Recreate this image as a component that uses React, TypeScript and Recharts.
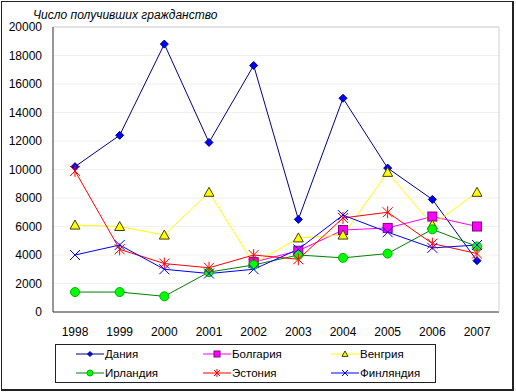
import React from 'react';
import { LineChart, Line, XAxis, YAxis, CartesianGrid, ReferenceLine } from 'recharts';

const years = ['1998', '1999', '2000', '2001', '2002', '2003', '2004', '2005', '2006', '2007'];
const denmark = [10200, 12400, 18800, 11900, 17300, 6500, 15000, 10100, 7900, 3600];
const bulgaria = [null, null, null, null, 3500, 4300, 5750, 5900, 6700, 6000];
const hungary = [6100, 6000, 5400, 8400, 3400, 5200, 5400, 9800, 6100, 8400];
const ireland = [1400, 1400, 1100, 2800, 3300, 4000, 3800, 4100, 5800, 4600];
const estonia = [9900, 4400, 3400, 3100, 4000, 3700, 6600, 7000, 4800, 4100];
const finland = [4000, 4700, 3000, 2700, 3000, 4400, 6800, 5600, 4500, 4700];
const yTicks = [0, 2000, 4000, 6000, 8000, 10000, 12000, 14000, 16000, 18000, 20000];

const data = years.map((year, i) => ({
  year,
  denmark: denmark[i],
  bulgaria: bulgaria[i],
  hungary: hungary[i],
  ireland: ireland[i],
  estonia: estonia[i],
  finland: finland[i],
}));

type Shape = 'diamond' | 'square' | 'triangle' | 'circle' | 'star' | 'cross';

const series: { key: string; name: string; line: string; fill: string; edge: string; shape: Shape }[] = [
  { key: 'denmark', name: 'Дания', line: '#000080', fill: '#0000FF', edge: '#000080', shape: 'diamond' },
  { key: 'bulgaria', name: 'Болгария', line: '#FF00FF', fill: '#FF00FF', edge: '#800080', shape: 'square' },
  { key: 'hungary', name: 'Венгрия', line: '#FFFF00', fill: '#FFFF00', edge: '#404000', shape: 'triangle' },
  { key: 'ireland', name: 'Ирландия', line: '#008000', fill: '#00FF00', edge: '#00B000', shape: 'circle' },
  { key: 'estonia', name: 'Эстония', line: '#FF0000', fill: '#FF0000', edge: '#FF0000', shape: 'star' },
  { key: 'finland', name: 'Финляндия', line: '#0000FF', fill: '#0000FF', edge: '#0000FF', shape: 'cross' },
];

function marker(shape: Shape, cx: number, cy: number, fill: string, edge: string, s: number) {
  switch (shape) {
    case 'diamond':
      return <path d={`M${cx},${cy - s}L${cx + s},${cy}L${cx},${cy + s}L${cx - s},${cy}Z`} fill={fill} stroke={edge} strokeWidth={1} />;
    case 'square':
      return <rect x={cx - s} y={cy - s} width={s * 2} height={s * 2} fill={fill} stroke={edge} strokeWidth={1} />;
    case 'triangle':
      return <path d={`M${cx},${cy - s}L${cx + s},${cy + s * 0.8}L${cx - s},${cy + s * 0.8}Z`} fill={fill} stroke={edge} strokeWidth={1} />;
    case 'circle':
      return <circle cx={cx} cy={cy} r={s} fill={fill} stroke={edge} strokeWidth={1} />;
    case 'star':
      return (
        <g stroke={edge} strokeWidth={1}>
          <line x1={cx - s} y1={cy - s} x2={cx + s} y2={cy + s} />
          <line x1={cx - s} y1={cy + s} x2={cx + s} y2={cy - s} />
          <line x1={cx} y1={cy - s - 1} x2={cx} y2={cy + s + 1} />
        </g>
      );
    default:
      return (
        <g stroke={edge} strokeWidth={1}>
          <line x1={cx - s} y1={cy - s} x2={cx + s} y2={cy + s} />
          <line x1={cx - s} y1={cy + s} x2={cx + s} y2={cy - s} />
        </g>
      );
  }
}

const dotSize: Record<Shape, number> = { diamond: 4, square: 4.5, triangle: 5, circle: 4.5, star: 5, cross: 5 };

const legendPos = [
  { left: 20, top: 1 },
  { left: 147, top: 1 },
  { left: 275, top: 1 },
  { left: 20, top: 20 },
  { left: 147, top: 20 },
  { left: 275, top: 20 },
];

function ChartLegend() {
  return (
    <div style={{ position: 'absolute', left: 55, top: 344, width: 381, height: 39, border: '1px solid #222', boxSizing: 'border-box', background: '#fff' }}>
      {series.map((s, i) => (
        <div key={s.key} style={{ position: 'absolute', left: legendPos[i].left, top: legendPos[i].top, display: 'flex', alignItems: 'center', height: 16 }}>
          <svg width={28} height={14}>
            <line x1={0} y1={7} x2={28} y2={7} stroke={s.line} strokeWidth={1} />
            {marker(s.shape, 14, 7, s.fill, s.edge, s.shape === 'diamond' ? 2.5 : 3)}
          </svg>
          <span style={{ fontSize: 11.5, color: '#000', marginLeft: 1 }}>{s.name}</span>
        </div>
      ))}
    </div>
  );
}

export default function App() {
  return (
    <div style={{ position: 'absolute', left: 0, top: 0, width: 516, height: 392, background: '#fff', fontFamily: '"Liberation Sans", Arial, sans-serif' }}>
      <div style={{ position: 'absolute', left: 1, top: 1, width: 513, height: 390, boxSizing: 'border-box', borderTop: '1px solid #222', borderLeft: '1px solid #222', borderRight: '2px solid #222', borderBottom: '2px solid #222' }} />
      <div style={{ position: 'absolute', left: 33, top: 8, fontSize: 12, fontStyle: 'italic', color: '#000' }}>
        Число получивших гражданство
      </div>
      <LineChart
        width={516}
        height={392}
        data={data}
        margin={{ top: 27, right: 16, left: 8, bottom: 50 }}
        style={{ position: 'absolute', left: 0, top: 0 }}
      >
        <CartesianGrid horizontal vertical={false} stroke="#F0F0F0" />
        <XAxis
          dataKey="year"
          padding={{ left: 22, right: 22 }}
          tickLine={false}
          axisLine={{ stroke: '#303030' }}
          tick={{ fontSize: 12, fill: '#000' }}
          tickMargin={9}
          height={30}
        />
        <YAxis
          domain={[0, 20000]}
          ticks={yTicks}
          width={45}
          tickLine={false}
          axisLine={{ stroke: '#303030' }}
          tick={{ fontSize: 12, fill: '#000' }}
          tickMargin={5}
          interval={0}
        />
        <YAxis yAxisId="r" orientation="right" width={1} tick={false} tickLine={false} axisLine={{ stroke: '#D0D0D0' }} domain={[0, 20000]} />
        <ReferenceLine y={20000} stroke="#D0D0D0" />
        {series.map((s) => (
          <Line
            key={s.key}
            dataKey={s.key}
            name={s.name}
            type="linear"
            stroke={s.line}
            strokeWidth={1}
            isAnimationActive={false}
            dot={(p: any) =>
              p.cy == null ? <g key={p.index} /> : <g key={p.index}>{marker(s.shape, p.cx, p.cy, s.fill, s.edge, dotSize[s.shape])}</g>
            }
            activeDot={false}
          />
        ))}
      </LineChart>
      <ChartLegend />
    </div>
  );
}
